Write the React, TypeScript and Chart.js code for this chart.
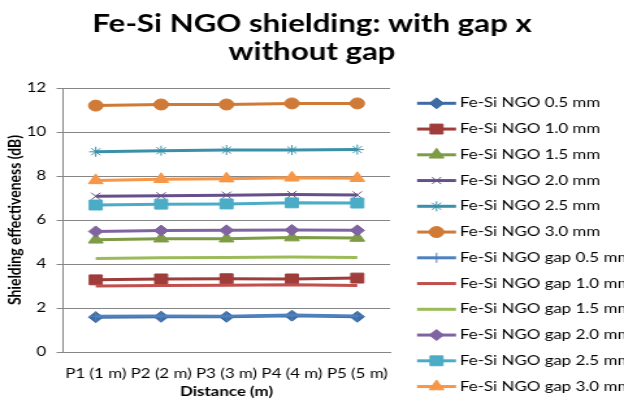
import React, { useEffect, useRef } from 'react';
import { Chart, registerables } from 'chart.js';
import * as helpers from 'chart.js/helpers';

Chart.register(...registerables);

// ---- data ----
const categories = ['P1 (1 m)', 'P2 (2 m)', 'P3 (3 m)', 'P4 (4 m)', 'P5 (5 m)'];

const ngo05 = [1.58, 1.6, 1.6, 1.65, 1.6];
const ngo10 = [3.28, 3.32, 3.33, 3.32, 3.36];
const ngo15 = [5.1, 5.15, 5.15, 5.2, 5.18];
const ngo20 = [7.08, 7.1, 7.13, 7.16, 7.14];
const ngo25 = [9.1, 9.15, 9.18, 9.18, 9.2];
const ngo30 = [11.2, 11.25, 11.25, 11.3, 11.3];
const gap05 = [1.62, 1.64, 1.63, 1.68, 1.64];
const gap10 = [3.0, 3.02, 3.03, 3.06, 3.02];
const gap15 = [4.25, 4.28, 4.3, 4.32, 4.3];
const gap20 = [5.48, 5.52, 5.53, 5.55, 5.53];
const gap25 = [6.68, 6.72, 6.73, 6.78, 6.77];
const gap30 = [7.8, 7.85, 7.88, 7.92, 7.9];

const seriesLabels = [
  'Fe-Si NGO 0.5 mm', 'Fe-Si NGO 1.0 mm', 'Fe-Si NGO 1.5 mm',
  'Fe-Si NGO 2.0 mm', 'Fe-Si NGO 2.5 mm', 'Fe-Si NGO 3.0 mm',
  'Fe-Si NGO gap 0.5 mm', 'Fe-Si NGO gap 1.0 mm', 'Fe-Si NGO gap 1.5 mm',
  'Fe-Si NGO gap 2.0 mm', 'Fe-Si NGO gap 2.5 mm', 'Fe-Si NGO gap 3.0 mm',
];
const seriesData = [ngo05, ngo10, ngo15, ngo20, ngo25, ngo30, gap05, gap10, gap15, gap20, gap25, gap30];

const titleLines = ['Fe-Si NGO shielding: with gap x', 'without gap'];
const xTitle = 'Distance (m)';
const yTitle = 'Shielding effectiveness (dB)';
const yMin = 0;
const yMax = 12;
const yStep = 2;

// ---- styles ----
const seriesColors = [
  '#3E6BA3', '#9E3D3A', '#7E9B45', '#66508A', '#3A90A8', '#D07A37',
  '#4F81BD', '#C0504D', '#9BBB59', '#8064A2', '#4BACC6', '#F79646',
];
const seriesMarkers = ['rectRot', 'rect', 'triangle', 'crossRot', 'star', 'circle', 'cross', false, false, 'rectRot', 'rect', 'triangle'];
const markerRadius: Record<string, number> = { rectRot: 5.5, rect: 7, triangle: 6.5, crossRot: 5, star: 5, circle: 5.5, cross: 5 };

const SCALE_X = 1.3; // the reference picture is horizontally stretched
const CSS_W = 624;
const CSS_H = 400;
const W = Math.round(CSS_W / SCALE_X);
const H = CSS_H;
const FONT = 'Lato';

const titlePlugin = {
  id: 'customTitle',
  afterDraw(chart: any) {
    const ctx = chart.ctx;
    ctx.save();
    ctx.fillStyle = '#000';
    ctx.font = `bold 24px ${FONT}`;
    ctx.textAlign = 'center';
    ctx.textBaseline = 'alphabetic';
    titleLines.forEach((t, i) => ctx.fillText(t, chart.width / 2, 32 + i * 28));
    ctx.restore();
  },
};

const legendPlugin = {
  id: 'customLegend',
  afterDraw(chart: any) {
    const ctx = chart.ctx;
    const x0 = chart.chartArea.right + 20.8;
    const lineW = 30;
    ctx.save();
    chart.data.datasets.forEach((ds: any, i: number) => {
      const y = 103.3 + i * 25.75;
      ctx.strokeStyle = ds.borderColor;
      ctx.lineWidth = 3;
      ctx.beginPath();
      ctx.moveTo(x0, y);
      ctx.lineTo(x0 + lineW, y);
      ctx.stroke();
      if (ds.pointStyle && ds.pointRadius > 0) {
        ctx.fillStyle = ds.pointBackgroundColor;
        ctx.strokeStyle = ds.pointBorderColor;
        ctx.lineWidth = ds.pointBorderWidth;
        helpers.drawPoint(ctx, { pointStyle: ds.pointStyle, rotation: 0, radius: ds.pointRadius, borderWidth: ds.pointBorderWidth }, x0 + lineW / 2, y);
      }
      ctx.fillStyle = '#000';
      ctx.font = `13px ${FONT}`;
      ctx.textAlign = 'left';
      ctx.textBaseline = 'middle';
      ctx.fillText(ds.label, x0 + lineW + 3, y);
    });
    ctx.restore();
  },
};

export default function App() {
  const ref = useRef<HTMLCanvasElement | null>(null);

  useEffect(() => {
    if (!ref.current) return;
    const n = seriesLabels.length;
    const datasets = seriesLabels.map((label, i) => {
      const m = seriesMarkers[i];
      const c = seriesColors[i];
      return {
        label,
        data: seriesData[i],
        borderColor: c,
        backgroundColor: c,
        borderWidth: 3,
        pointStyle: m || 'circle',
        pointRadius: m ? markerRadius[m as string] : 0,
        pointHoverRadius: m ? markerRadius[m as string] : 0,
        pointBackgroundColor: c,
        pointBorderColor: c,
        pointBorderWidth: 1,
        tension: 0,
        fill: false,
        order: n - i,
      };
    });

    const chart = new Chart(ref.current, {
      type: 'line',
      data: { labels: categories, datasets },
      plugins: [titlePlugin, legendPlugin],
      options: {
        responsive: false,
        maintainAspectRatio: false,
        devicePixelRatio: 1,
        animation: false,
        layout: { padding: { top: 88, right: 180, left: 0, bottom: 0 } },
        plugins: {
          legend: { display: false },
          title: { display: false },
          tooltip: { enabled: false },
        },
        scales: {
          x: {
            type: 'category',
            offset: true,
            grid: { display: false },
            border: { display: true, color: '#868686', width: 1 },
            ticks: { font: { family: FONT, size: 13 }, color: '#000', padding: 6, maxRotation: 0, autoSkip: false },
            title: { display: true, text: xTitle, font: { family: FONT, size: 13, weight: 'bold' }, color: '#000', padding: { top: 0, bottom: 0 } },
            afterFit: (s: any) => { s.height = 48; },
          },
          y: {
            min: yMin,
            max: yMax,
            ticks: { stepSize: yStep, font: { family: FONT, size: 13 }, color: '#000', padding: 8 },
            grid: { color: '#868686', lineWidth: 1, tickLength: 5, drawTicks: true },
            border: { display: true, color: '#868686', width: 1 },
            title: { display: true, text: yTitle, font: { family: FONT, size: 14, weight: 'bold' }, color: '#000', padding: { top: 3, bottom: 0 } },
            afterFit: (s: any) => { s.width = 48.5; },
          },
        },
      } as any,
    });
    return () => chart.destroy();
  }, []);

  return (
    <div style={{ position: 'fixed', left: 0, top: 0, width: CSS_W, height: CSS_H, background: '#fff', overflow: 'hidden' }}>
      <canvas ref={ref} width={W} height={H} style={{ width: `${CSS_W}px`, height: `${CSS_H}px`, display: 'block' }} />
    </div>
  );
}
